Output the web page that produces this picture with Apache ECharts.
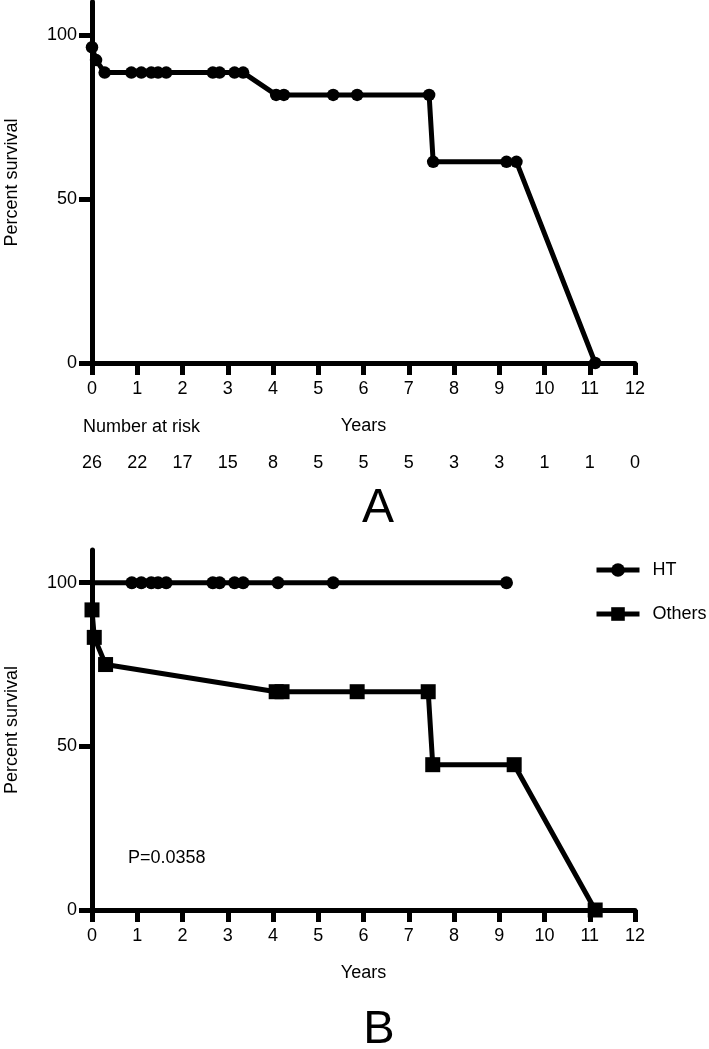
<!DOCTYPE html>
<html><head><meta charset="utf-8">
<script src="https://cdn.jsdelivr.net/npm/echarts@6/dist/echarts.min.js"></script>
<style>html,body{margin:0;padding:0;background:#fff}#c{width:709px;height:1049px}</style>
</head><body><div id="c"></div>
<script>
// ---- data ----
const yearTicks = [0,1,2,3,4,5,6,7,8,9,10,11,12];
const riskAtYear = [26,22,17,15,8,5,5,5,3,3,1,1,0];
const percentTicks = [0,50,100];

const allYears    = [0, 0.09, 0.28, 0.87, 1.09, 1.31, 1.46, 1.64, 2.67, 2.82, 3.15, 3.34, 4.07, 4.24, 5.33, 5.86, 7.45, 7.54, 9.16, 9.38, 11.12];
const allSurvival = [96.2, 92.3, 88.5, 88.5, 88.5, 88.5, 88.5, 88.5, 88.5, 88.5, 88.5, 88.5, 81.7, 81.7, 81.7, 81.7, 81.7, 61.3, 61.3, 61.3, 0];

const htYears    = [0, 0.88, 1.09, 1.31, 1.46, 1.64, 2.67, 2.82, 3.15, 3.34, 4.11, 5.33, 9.16];
const htSurvival = [100, 100, 100, 100, 100, 100, 100, 100, 100, 100, 100, 100, 100];

const othersYears    = [0, 0.05, 0.3, 4.07, 4.2, 5.86, 7.43, 7.53, 9.33, 11.12];
const othersSurvival = [91.7, 83.3, 75, 66.7, 66.7, 66.7, 66.7, 44.4, 44.4, 0];

const seriesNames = ['HT', 'Others'];
const pValueText = 'P=0.0358';

// ---- chart ----
const FONT = "'Liberation Sans', Arial, Helvetica, sans-serif";
const chart = echarts.init(document.getElementById('c'), null, {renderer: 'canvas'});

function pairs(xs, ys) { return xs.map((x, i) => [x, ys[i]]); }

function xAxisBase(gridIndex) {
  return {
    type: 'value', gridIndex: gridIndex, position: 'bottom',
    min: yearTicks[0], max: yearTicks[yearTicks.length - 1], interval: 1,
    axisLine: {show: true, onZero: false, lineStyle: {color: '#000', width: 5}},
    axisTick: {show: true, length: 12, lineStyle: {color: '#000', width: 5}},
    axisLabel: {color: '#000', fontSize: 18, fontFamily: FONT, margin: 17},
    splitLine: {show: false},
    name: 'Years', nameLocation: 'middle', nameGap: 54,
    nameTextStyle: {color: '#000', fontSize: 18, fontFamily: FONT}
  };
}
function yAxisBase(gridIndex) {
  return {
    type: 'value', gridIndex: gridIndex, min: 0, max: 110,
    axisLine: {show: true, onZero: false, lineStyle: {color: '#000', width: 5}},
    axisTick: {show: true, length: 13, customValues: percentTicks, lineStyle: {color: '#000', width: 5}},
    axisLabel: {color: '#000', fontSize: 18, fontFamily: FONT, margin: 15, customValues: percentTicks},
    splitLine: {show: false},
    name: 'Percent survival', nameLocation: 'middle', nameGap: 71,
    nameTextStyle: {color: '#000', fontSize: 18, fontFamily: FONT}
  };
}

const riskAxis = Object.assign(xAxisBase(0), {
  axisLine: {show: false}, axisTick: {show: false}, name: '',
  axisLabel: {color: '#000', fontSize: 18, fontFamily: FONT, margin: 91,
    formatter: v => String(riskAtYear[Math.round(v)])}
});

const lineCommon = {
  type: 'line', showAllSymbol: true, clip: false,
  lineStyle: {color: '#000', width: 5},
  itemStyle: {color: '#000'}
};

chart.setOption({
  animation: false,
  backgroundColor: '#fff',
  grid: [
    {left: 92, width: 543, top: 2, height: 361, outerBoundsMode: 'none', containLabel: false},
    {left: 92, width: 543, top: 550, height: 360, outerBoundsMode: 'none', containLabel: false}
  ],
  xAxis: [xAxisBase(0), riskAxis, xAxisBase(1)],
  yAxis: [yAxisBase(0), yAxisBase(1)],
  legend: {
    data: seriesNames, orient: 'vertical', left: 589, top: 556,
    itemWidth: 43, itemHeight: 17, itemGap: 26,
    lineStyle: {width: 5, color: '#000'},
    textStyle: {color: '#000', fontSize: 18, fontFamily: FONT, padding: [0, 0, 0, 8]}
  },
  series: [
    Object.assign({}, lineCommon, {name: 'All', xAxisIndex: 0, yAxisIndex: 0,
      symbol: 'circle', symbolSize: 12.5, data: pairs(allYears, allSurvival)}),
    Object.assign({}, lineCommon, {name: seriesNames[0], xAxisIndex: 2, yAxisIndex: 1,
      symbol: 'circle', symbolSize: 13,
      data: pairs(htYears, htSurvival).map((p, i) => i === 0 ? {value: p, symbol: 'none'} : p)}),
    Object.assign({}, lineCommon, {name: seriesNames[1], xAxisIndex: 2, yAxisIndex: 1,
      symbol: 'rect', symbolSize: 15, data: pairs(othersYears, othersSurvival)})
  ],
  graphic: [
    {type: 'text', style: {x: 83, y: 427, text: 'Number at risk', fontSize: 18, fontFamily: FONT, fill: '#000', align: 'left', verticalAlign: 'middle'}},
    {type: 'text', style: {x: 378, y: 509, text: 'A', fontSize: 48, fontFamily: FONT, fill: '#000', align: 'center', verticalAlign: 'middle'}},
    {type: 'text', style: {x: 128, y: 858, text: pValueText, fontSize: 18, fontFamily: FONT, fill: '#000', align: 'left', verticalAlign: 'middle'}},
    {type: 'text', style: {x: 379, y: 1030, text: 'B', fontSize: 47, fontFamily: FONT, fill: '#000', align: 'center', verticalAlign: 'middle'}}
  ]
});
</script></body></html>
